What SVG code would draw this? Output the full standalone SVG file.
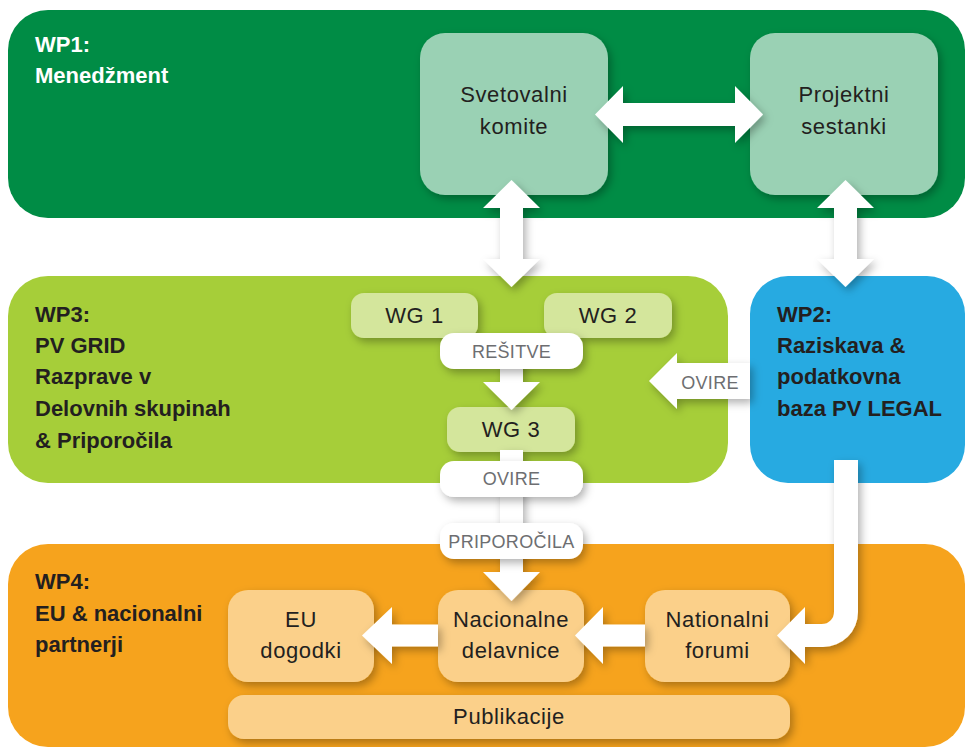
<svg xmlns="http://www.w3.org/2000/svg" width="965" height="747" viewBox="0 0 965 747">
<defs>
<style>
.wp{font-family:"Liberation Sans",Arial,sans-serif;font-weight:bold;font-size:22px;fill:#231F20}
.wpw{fill:#FFFFFF}
.nt{font-family:"Liberation Sans",Arial,sans-serif;font-size:22px;fill:#231F20;text-anchor:middle;letter-spacing:0.6px}
.lb{font-family:"Liberation Sans",Arial,sans-serif;font-size:18px;fill:#6D6E71;text-anchor:middle;letter-spacing:0.3px}
.arrow{fill:#FFFFFF}
.mgmt{fill:#9AD1B4}
.wg{fill:#D4E69C}
.org{fill:#FBD08A}
.pill{fill:#FFFFFF}
</style>
<filter id="sh" x="-20%" y="-20%" width="150%" height="160%">
<feDropShadow dx="3" dy="4" stdDeviation="4" flood-color="#000000" flood-opacity="0.3"/>
</filter>
</defs>

<g id="wp1">
<rect x="8" y="10" width="957" height="208" rx="40" fill="#008C45"/>
<text class="wp wpw" x="35" y="52">WP1:</text>
<text class="wp wpw" x="35" y="83">Menedžment</text>
</g>
<g id="wp3">
<rect x="8" y="276" width="720" height="207" rx="40" fill="#A6CE39"/>
<text class="wp" x="35" y="322">WP3:</text>
<text class="wp" x="35" y="353">PV GRID</text>
<text class="wp" x="35" y="384">Razprave v</text>
<text class="wp" x="35" y="416">Delovnih skupinah</text>
<text class="wp" x="35" y="448">&amp; Priporočila</text>
</g>
<g id="wp2">
<rect x="750" y="276" width="215" height="207" rx="38" fill="#27AAE1"/>
<text class="wp" x="777" y="322">WP2:</text>
<text class="wp" x="777" y="353">Raziskava &amp;</text>
<text class="wp" x="777" y="384">podatkovna</text>
<text class="wp" x="777" y="416">baza PV LEGAL</text>
</g>
<g id="wp4">
<rect x="8" y="544" width="957" height="203" rx="40" fill="#F6A31D"/>
<text class="wp" x="35" y="589">WP4:</text>
<text class="wp" x="35" y="621">EU &amp; nacionalni</text>
<text class="wp" x="35" y="652">partnerji</text>
</g>

<g id="svetovalni-komite">
<rect class="mgmt" x="420" y="33" width="188" height="162" rx="25" filter="url(#sh)"/>
<text class="nt" x="514" y="102">Svetovalni</text>
<text class="nt" x="514" y="134">komite</text>
</g>
<g id="projektni-sestanki">
<rect class="mgmt" x="750" y="33" width="188" height="162" rx="25" filter="url(#sh)"/>
<text class="nt" x="844" y="102">Projektni</text>
<text class="nt" x="844" y="134">sestanki</text>
</g>
<g id="wg1">
<rect class="wg" x="351" y="293" width="127" height="45" rx="13" filter="url(#sh)"/>
<text class="nt" x="414.5" y="323">WG 1</text>
</g>
<g id="wg2">
<rect class="wg" x="544" y="293" width="128" height="45" rx="13" filter="url(#sh)"/>
<text class="nt" x="608" y="323">WG 2</text>
</g>
<g id="wg3">
<rect class="wg" x="447" y="407" width="128" height="45" rx="13" filter="url(#sh)"/>
<text class="nt" x="511" y="437">WG 3</text>
</g>
<g id="eu-dogodki">
<rect class="org" x="228" y="590" width="146" height="92" rx="20" filter="url(#sh)"/>
<text class="nt" x="301" y="627">EU</text>
<text class="nt" x="301" y="658">dogodki</text>
</g>
<g id="nacionalne-delavnice">
<rect class="org" x="438" y="590" width="146" height="92" rx="20" filter="url(#sh)"/>
<text class="nt" x="511" y="627">Nacionalne</text>
<text class="nt" x="511" y="658">delavnice</text>
</g>
<g id="nationalni-forumi">
<rect class="org" x="645" y="590" width="145" height="92" rx="20" filter="url(#sh)"/>
<text class="nt" x="717.5" y="627">Nationalni</text>
<text class="nt" x="717.5" y="658">forumi</text>
</g>
<g id="publikacije">
<rect class="org" x="228" y="695" width="562" height="44" rx="16" filter="url(#sh)"/>
<text class="nt" x="509" y="724">Publikacije</text>
</g>

<g id="connectors">
<path class="arrow" filter="url(#sh)" d="M595,114.5 L623,86 L623,103 L735,103 L735,86 L763,114.5 L735,143 L735,126 L623,126 L623,143 Z"/>
<path class="arrow" filter="url(#sh)" d="M511.5,180 L540,208 L523,208 L523,259 L540,259 L511.5,287 L483,259 L500,259 L500,208 L483,208 Z"/>
<path class="arrow" filter="url(#sh)" d="M845.5,180 L874,208 L857,208 L857,259 L874,259 L845.5,287 L817,259 L834,259 L834,208 L817,208 Z"/>
<path class="arrow" filter="url(#sh)" d="M500,355 L523,355 L523,382 L540,382 L511.5,410 L483,382 L500,382 Z"/>
<path class="arrow" filter="url(#sh)" d="M500,450 L523,450 L523,572 L540,572 L511.5,601 L483,572 L500,572 Z"/>
<path class="arrow" filter="url(#sh)" d="M649,381 L677,353 L677,363 L750,363 L750,399 L677,399 L677,409 Z"/>
<text class="lb" x="710" y="389">OVIRE</text>
<path class="arrow" filter="url(#sh)" d="M362,635.5 L392,607 L392,624.5 L438,624.5 L438,646.5 L392,646.5 L392,664 Z"/>
<path class="arrow" filter="url(#sh)" d="M575,635.5 L603,607 L603,624.5 L645,624.5 L645,646.5 L603,646.5 L603,664 Z"/>
<path class="arrow" filter="url(#sh)" d="M834,460 L858,460 L858,612 A35,35 0 0 1 823,647 L805,647 L805,664 L777,635.5 L805,607 L805,624 L822,624 A12,12 0 0 0 834,612 Z"/>
<g id="label-resitve">
<rect class="pill" x="440" y="333" width="143" height="36" rx="14" filter="url(#sh)"/>
<text class="lb" x="511.5" y="358">REŠITVE</text>
</g>
<g id="label-ovire">
<rect class="pill" x="440" y="461" width="143" height="36" rx="14" filter="url(#sh)"/>
<text class="lb" x="511.5" y="485">OVIRE</text>
</g>
<g id="label-priporocila">
<rect class="pill" x="440" y="523" width="143" height="36" rx="14" filter="url(#sh)"/>
<text class="lb" x="511.5" y="548">PRIPOROČILA</text>
</g>
</g>
</svg>
